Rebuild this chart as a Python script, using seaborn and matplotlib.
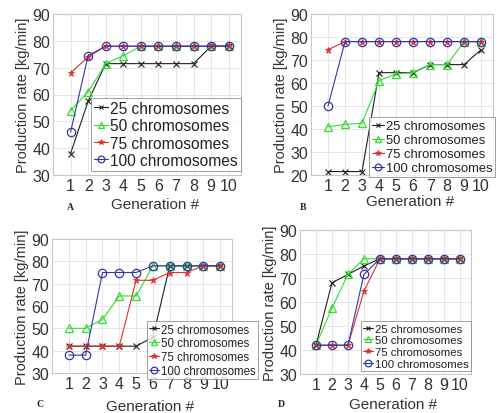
import matplotlib
matplotlib.use("Agg")
import matplotlib.pyplot as plt
import seaborn as sns
import pandas as pd

generations = list(range(1, 11))
series_names = ["25 chromosomes", "50 chromosomes", "75 chromosomes", "100 chromosomes"]

# Panel A
a_25 = [38, 57.5, 71.5, 71.5, 71.5, 71.5, 71.5, 71.5, 78, 78]
a_50 = [54, 61, 71.5, 74.5, 78, 78, 78, 78, 78, 78]
a_75 = [68, 74, 78, 78, 78, 78, 78, 78, 78, 78]
a_100 = [46, 74.5, 78, 78, 78, 78, 78, 78, 78, 78]

# Panel B
b_25 = [21.5, 21.5, 21.5, 64.5, 64.5, 64.5, 68, 68, 68, 74.5]
b_50 = [41, 42, 42.5, 61, 64, 64.5, 68, 68, 78, 78]
b_75 = [74.5, 78, 78, 78, 78, 78, 78, 78, 78, 78]
b_100 = [50, 78, 78, 78, 78, 78, 78, 78, 78, 78]

# Panel C
c_25 = [42, 42, 42, 42, 42, 46, 78, 78, 78, 78]
c_50 = [50, 50, 54, 64.5, 64.5, 78, 78, 78, 78, 78]
c_75 = [42, 42, 42, 42, 71.5, 71.5, 75, 75, 78, 78]
c_100 = [38, 38, 75, 75, 75, 78, 78, 78, 78, 78]

# Panel D
d_25 = [42, 68, 71.5, 75, 78, 78, 78, 78, 78, 78]
d_50 = [42, 57.5, 71.5, 78, 78, 78, 78, 78, 78, 78]
d_75 = [42, 42, 42, 64.5, 78, 78, 78, 78, 78, 78]
d_100 = [42, 42, 42, 71.5, 78, 78, 78, 78, 78, 78]

panel_letters = ["A", "B", "C", "D"]
panel_data = [
    [a_25, a_50, a_75, a_100],
    [b_25, b_50, b_75, b_100],
    [c_25, c_50, c_75, c_100],
    [d_25, d_50, d_75, d_100],
]
panel_ylim = [(30, 90), (20, 90), (30, 90), (30, 90)]

sns.set_theme(style="whitegrid")
plt.rcParams["font.family"] = ["Liberation Sans", "DejaVu Sans"]

W, H = 497, 414
fig = plt.figure(figsize=(W / 100, H / 100), dpi=100)

# pixel boxes: left, right, top, bottom
boxes = [(53, 241, 15, 176), (311, 493, 15, 176), (52, 232, 240, 374), (300, 471, 231, 375)]
legend_sizes = [11.2, 9.4, 8.3, 8.2]
legend_anchor = [(241, 172), (495, 178), (258, 380), (471, 372)]
letter_pos = [(70, 208), (303, 208), (40, 405), (281, 405)]
xlabel_y = [205, 202, 407, 405]

styles = [
    dict(color="#202020", marker="x", mfc="#202020", mec="#202020", ms=4, mew=0.8),
    dict(color="#33dd33", marker="^", mfc="none", mec="#33dd33", ms=6, mew=0.9),
    dict(color="#e03030", marker="*", mfc="#e03030", mec="#e03030", ms=5, mew=0.6),
    dict(color="#3535a8", marker="o", mfc="none", mec="#3535a8", ms=6, mew=0.9),
]

for i in range(4):
    l, r, t, b = boxes[i]
    ax = fig.add_axes([l / W, 1 - b / H, (r - l) / W, (b - t) / H])
    for name, vals, st in zip(series_names, panel_data[i], styles):
        df = pd.DataFrame({"gen": generations, "rate": vals})
        sns.lineplot(data=df, x="gen", y="rate", ax=ax, label=name, lw=0.8, **st)
    ax.set_xlim(0, 10.7)
    ax.set_ylim(*panel_ylim[i])
    ax.set_xticks(generations)
    ax.set_yticks(range(panel_ylim[i][0], 91, 10))
    ax.tick_params(axis="both", labelsize=11.5, colors="#333333", pad=2, length=0)
    ax.set_xlabel("")
    ax.set_ylabel("Production rate [kg/min]", fontsize=10.5, color="#333333", labelpad=2)
    ax.grid(True, color="#e6e6e6", lw=0.7)
    ax.set_facecolor("white")
    for sp in ax.spines.values():
        sp.set_color("#c8c8c8")
        sp.set_linewidth(0.8)
    ax_ = legend_anchor[i]
    leg = ax.legend(loc="lower right", bbox_to_anchor=(ax_[0] / W, 1 - ax_[1] / H),
                    bbox_transform=fig.transFigure, fontsize=legend_sizes[i],
                    frameon=True, fancybox=False, edgecolor="#888888",
                    handlelength=0.9, handletextpad=0.15, borderpad=0.2,
                    labelspacing=0.15, borderaxespad=0, markerscale=0.8)
    leg.get_frame().set_linewidth(0.7)
    for txt in leg.get_texts():
        txt.set_color("#222222")
    fig.text(((l + r) / 2 + 8) / W, 1 - xlabel_y[i] / H, "Generation #",
             ha="center", va="center", fontsize=11, color="#333333")
    lx, ly = letter_pos[i]
    fig.text(lx / W, 1 - ly / H, panel_letters[i], ha="center", va="center",
             fontsize=7, fontweight="bold", family="Liberation Serif")

fig.savefig("out.png", dpi=100)
